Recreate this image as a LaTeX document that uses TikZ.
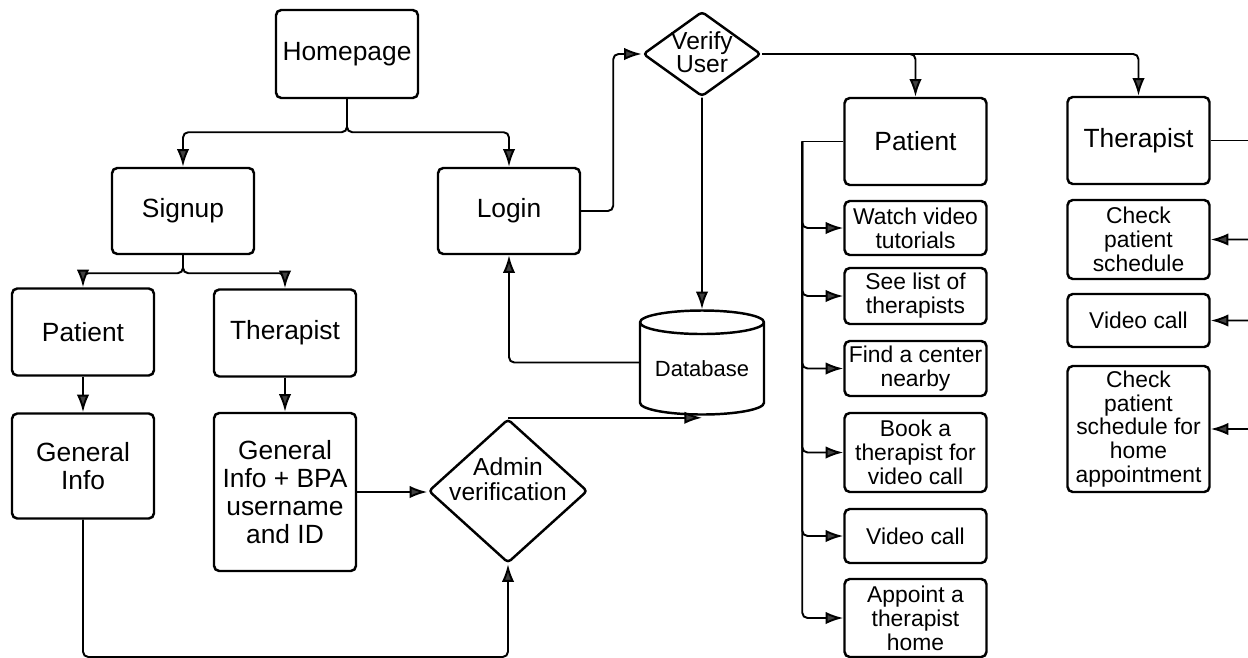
\documentclass[tikz,border=0pt]{standalone}
\usepackage{fontspec}
\setmainfont{Liberation Sans}
\usepackage{tikz}
\usetikzlibrary{arrows.meta, shapes.geometric, calc}

\begin{document}
\begin{tikzpicture}
      [
        box/.style={draw=black, line width=1.4pt, rounded corners=3pt, align=center,
          inner sep=0pt, minimum width=2.84cm},
        bigtext/.style={font=\fontsize{15}{15.8}\selectfont},
        smalltext/.style={font=\fontsize{13}{13.6}\selectfont},
        decision/.style={draw=black, line width=1.4pt, diamond, inner sep=0pt,
          rounded corners=2pt},
        store/.style={draw=black, line width=1.4pt, cylinder, shape border rotate=90,
          aspect=0.25, inner sep=0pt, font=\fontsize{12.5}{14}\selectfont},
        link/.style={line width=1.1pt, rounded corners=3pt,
          -{Latex[length=10pt,width=7pt,fill=black!75]}},
        bus/.style={line width=1.1pt, rounded corners=3pt}
      ]
      \useasboundingbox (0,0) rectangle (24.96,-13.16);
      \clip (0,0) rectangle (24.96,-13.16);
      % sign up side
      \node [box, bigtext, minimum height=1.76cm] (home) at (6.94,-1.08) {Homepage};
      \node [box, bigtext, minimum height=1.72cm] (signup) at (3.66,-4.22) {Signup};
      \node [box, bigtext, minimum height=1.72cm] (login) at (10.18,-4.22) {Login};
      \node [box, bigtext, minimum height=1.74cm] (patL) at (1.66,-6.64) {Patient};
      \node [box, bigtext, minimum height=1.74cm] (therL) at (5.70,-6.66) {Therapist};
      \node [box, bigtext, minimum height=2.10cm] (geninfo) at (1.66,-9.32) {General\\Info};
      \node [box, bigtext, minimum height=3.16cm] (gibpa) at (5.70,-9.84)
        {General\\Info + BPA\\username\\and ID};
      \node [decision, minimum width=3.18cm, minimum height=2.88cm,
        label={[font=\fontsize{14}{14.2}\selectfont, align=center, yshift=6.5pt]center:Admin\\verification}]
        (admin) at (10.16,-9.82) {};
      \node [store, minimum width=2.48cm, minimum height=2.08cm] (db) at (14.04,-7.38) {Database};
      \node [decision, minimum width=2.36cm, minimum height=1.70cm,
        label={[font=\fontsize{14}{13.6}\selectfont, align=center, yshift=1pt]center:Verify\\User}]
        (verify) at (14.04,-1.08) {};
      % patient menu
      \node [box, bigtext, minimum height=1.74cm] (patR) at (18.31,-2.83) {Patient};
      \foreach \name/\y/\h/\txt in {watch/4.56/1.08/Watch video\\tutorials,
          seelist/5.92/1.12/See list of\\therapists,
          find/7.37/1.10/Find a center\\nearby,
          book/9.05/1.58/Book a\\therapist for\\video call,
          vidP/10.72/1.08/Video call,
          appoint/12.36/1.56/Appoint a\\therapist\\home} {
          \node [box, smalltext, minimum height=\h cm] (\name) at (18.31,-\y) {\txt};
      }
      % therapist menu
      \node [box, bigtext, minimum height=1.74cm] (therR) at (22.77,-2.81) {Therapist};
      \foreach \name/\y/\h/\txt in {check/4.79/1.58/Check\\patient\\schedule,
          vidT/6.41/1.06/Video call,
          checkhome/8.58/2.52/Check\\patient\\schedule for\\home\\appointment} {
          \node [box, smalltext, minimum height=\h cm] (\name) at (22.77,-\y) {\txt};
      }
      % edges
      \draw [link] (home.south) -- ++(0,-0.66) -| (signup);
      \draw [link] (home.south) -- ++(0,-0.66) -| (login);
      \draw [link] (signup.south) -- ++(0,-0.36) -| (patL);
      \draw [link] (signup.south) -- ++(0,-0.36) -| (therL);
      \draw [link] (patL) -- (geninfo);
      \draw [link] (therL) -- (gibpa);
      \draw [link] (gibpa.east) -- (gibpa.east -| admin.west);
      \coordinate (lowrun) at (0,-13.14);
      \draw [link] (geninfo.south) -- (geninfo.south |- lowrun) -| (admin.south);
      \draw [link] (admin.north) -- (admin.north -| db.south);
      \draw [link] (db.west |- db.shape center) -| (login);
      \draw [link] (login.east) -- ++(0.64,0) |- (verify);
      \draw [link] (verify) -- (db);
      \draw [link] (verify.east) -| (patR);
      \draw [link] (verify.east) -| (therR);
      % branches
      \draw [bus] (patR.west) -- ++(-0.82,0) coordinate (pbus);
      \foreach \n in {watch,seelist,find,book,vidP,appoint} {
          \draw [link] (pbus) |- (\n.west);
      }
      \draw [bus] (therR.east) -- ++(1.04,0) coordinate (tbus);
      \foreach \n in {check,vidT,checkhome} {
          \draw [link] (tbus) |- (\n.east);
      }
\end{tikzpicture}
\end{document}
